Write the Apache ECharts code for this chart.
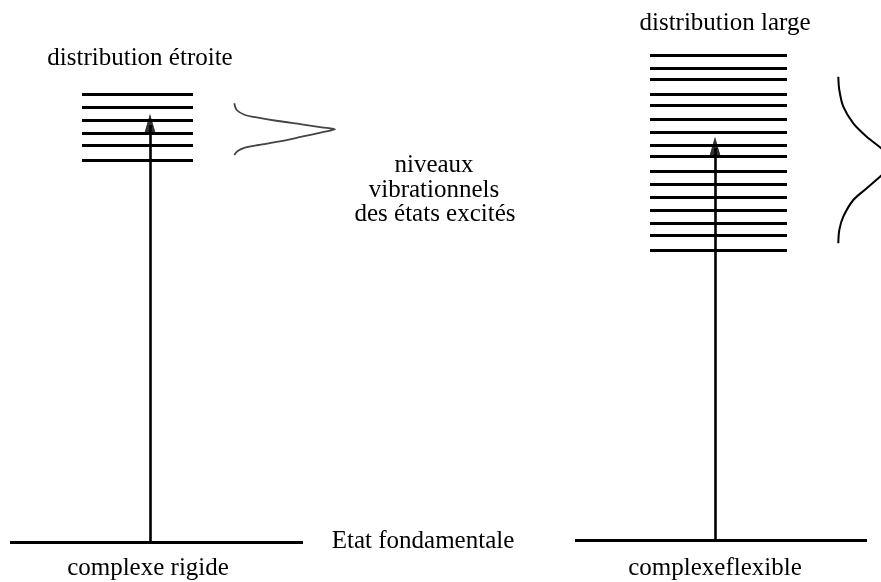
<!DOCTYPE html>
<html><head><meta charset="utf-8">
<script src="https://cdn.jsdelivr.net/npm/echarts@6/dist/echarts.min.js"></script>
<style>html,body{margin:0;padding:0;background:#fff}#c{width:881px;height:582px}</style>
</head><body><div id="c"></div>
<script>
// Energies (arbitrary units, ground state = 0)
const narrowLevels = [448, 435, 422, 409, 397, 382];
const broadLevels = [487, 474, 463, 448, 437, 423, 410, 397, 386, 371, 358, 345, 332, 319, 307, 292];
const groundEnergy = [0, 2];
const arrowTips = [427, 404];
// Distribution profiles (x, energy)
const narrowProfileX = [234.3, 236.7, 245, 258, 278, 301.7, 321.7, 335, 321.7, 301.7, 278.3, 258.3, 245, 237.7, 234.3];
const narrowProfileE = [438.7, 432, 427, 424.3, 421, 417.7, 414.7, 412.7, 409.7, 405.3, 400.3, 397, 394.3, 391, 387];
const broadProfileX = [838.3, 839.3, 843.3, 853.3, 866.7, 880, 890, 893, 890, 880, 866.7, 853.3, 843.3, 839.3, 838.3];
const broadProfileE = [465.3, 452, 435.3, 418.7, 405.3, 394.7, 386, 380, 374, 365.3, 353.7, 342, 325.3, 312, 298.7];
const labels = {
  narrow: 'distribution étroite',
  broad: 'distribution large',
  levels: ['niveaux', 'vibrationnels', 'des états excités'],
  ground: 'Etat fondamentale',
  rigid: 'complexe rigide',
  flexible: 'complexeflexible'
};

// layout (x positions in axis units)
const narrowSpan = [82, 193], broadSpan = [650, 787];
const groundSpans = [[10, 303], [575, 867]];
const arrowX = [150, 715];

const levelLines = [];
narrowLevels.forEach(e => levelLines.push({coords: [[narrowSpan[0], e], [narrowSpan[1], e]]}));
broadLevels.forEach(e => levelLines.push({coords: [[broadSpan[0], e], [broadSpan[1], e]]}));
const groundLines = groundSpans.map((s, i) => ({coords: [[s[0], groundEnergy[i]], [s[1], groundEnergy[i]]]}));
const shafts = arrowX.map((x, i) => ({coords: [[x, groundEnergy[i]], [x, arrowTips[i] - 10]]}));

const FONT = '25px "Liberation Serif", "DejaVu Serif", serif';
function txt(t, x, y) {
  return {type: 'text', x: x, y: y, style: {text: t, font: FONT, fill: '#000', textAlign: 'center', textVerticalAlign: 'middle'}};
}

const chart = echarts.init(document.getElementById('c'), null, {renderer: 'canvas'});
chart.setOption({
  animation: false,
  backgroundColor: '#fff',
  grid: {left: 0, right: 0, top: 0, bottom: 0},
  xAxis: {type: 'value', min: 0, max: 881, show: false},
  yAxis: {type: 'value', min: -40, max: 542, show: false},
  series: [
    {type: 'lines', coordinateSystem: 'cartesian2d', data: levelLines, symbol: 'none',
     lineStyle: {color: '#000', width: 3, opacity: 1}},
    {type: 'lines', coordinateSystem: 'cartesian2d', data: groundLines, symbol: 'none',
     lineStyle: {color: '#000', width: 3, opacity: 1}},
    {type: 'lines', coordinateSystem: 'cartesian2d', data: shafts, symbol: 'none',
     lineStyle: {color: '#000', width: 2.6, opacity: 1}},
    {type: 'scatter', data: arrowX.map((x, i) => [x, arrowTips[i]]),
     symbol: 'path://M5,0 L10,18 L5,16 L0,18 Z', symbolSize: [11, 19], symbolOffset: [0, '50%'],
     itemStyle: {color: '#000', borderColor: '#000', borderWidth: 0.8}},
    {type: 'line', data: narrowProfileX.map((x, i) => [x, narrowProfileE[i]]), smooth: 0.3,
     symbol: 'none', lineStyle: {color: '#444', width: 1.8}},
    {type: 'line', data: broadProfileX.map((x, i) => [x, broadProfileE[i]]), smooth: 0.3,
     symbol: 'none', lineStyle: {color: '#000', width: 2}}
  ],
  graphic: [
    txt(labels.narrow, 140, 58),
    txt(labels.broad, 725, 23),
    txt(labels.levels[0], 434, 165),
    txt(labels.levels[1], 434, 190),
    txt(labels.levels[2], 435, 214),
    txt(labels.ground, 423, 541),
    txt(labels.rigid, 148, 568),
    txt(labels.flexible, 715, 568)
  ]
});
</script></body></html>
